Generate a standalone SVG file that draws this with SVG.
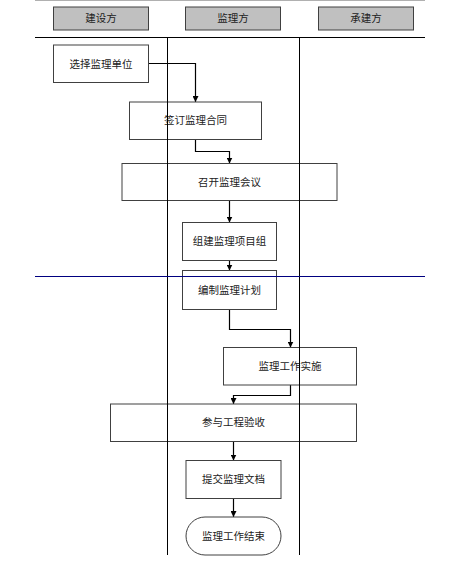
<svg xmlns="http://www.w3.org/2000/svg" width="456" height="566" viewBox="0 0 456 566">
<style>
.hdr{fill:#c0c0c0;stroke:#404040;stroke-width:1}
.box{fill:#ffffff;stroke:#404040;stroke-width:1}
.t{font-family:"Liberation Serif","Noto Sans CJK SC",serif;font-size:10.5px;fill:#222;text-anchor:middle;dominant-baseline:central}
.lane{stroke:#000;stroke-width:1;fill:none}
.c{stroke:#000;stroke-width:1.2;fill:none;marker-end:url(#ah)}
</style>
<defs>
<marker id="ah" viewBox="0 0 10 10" refX="10" refY="5" markerWidth="6" markerHeight="6" markerUnits="userSpaceOnUse" orient="auto">
<path d="M0,0 L10,5 L0,10 z" fill="#000"/>
</marker>
</defs>
<rect width="456" height="566" fill="#fff"/>
<g id="h1"><rect class="hdr" x="53.5" y="7" width="95" height="23"/><text class="t" x="101" y="18.5">建设方</text></g>
<g id="h2"><rect class="hdr" x="185.5" y="7" width="95" height="23"/><text class="t" x="233" y="18.5">监理方</text></g>
<g id="h3"><rect class="hdr" x="318.5" y="7" width="95" height="23"/><text class="t" x="366" y="18.5">承建方</text></g>
<g id="connectors">
<polyline class="c" points="148.5,63.5 195.5,63.5 195.5,102"/>
<polyline class="c" points="195.5,139.5 195.5,151.5 229.5,151.5 229.5,163.5"/>
<polyline class="c" points="229.5,200.5 229.5,222.5"/>
<polyline class="c" points="229.5,260.5 229.5,270.5"/>
<polyline class="c" points="229.5,309.5 229.5,329.5 290.5,329.5 290.5,347.5"/>
<polyline class="c" points="290.5,385 290.5,395.5 233.5,395.5 233.5,404"/>
<polyline class="c" points="233.5,441.5 233.5,460.5"/>
<polyline class="c" points="233.5,498.5 233.5,517"/>
</g>
<g id="n1"><rect class="box" x="53.5" y="45" width="95" height="37.5"/><text class="t" x="101" y="64">选择监理单位</text></g>
<g id="n2"><rect class="box" x="129.5" y="102" width="132" height="37.5"/><text class="t" x="195.5" y="120.5">签订监理合同</text></g>
<g id="n3"><rect class="box" x="122" y="163.5" width="215" height="37"/><text class="t" x="229.5" y="182">召开监理会议</text></g>
<g id="n4"><rect class="box" x="182.5" y="222.5" width="94" height="38"/><text class="t" x="229.5" y="241.5">组建监理项目组</text></g>
<g id="n5"><rect class="box" x="182.5" y="270.5" width="94" height="39"/><text class="t" x="229.5" y="290">编制监理计划</text></g>
<g id="n6"><rect class="box" x="223.5" y="347.5" width="133" height="37.5"/><text class="t" x="290" y="366">监理工作实施</text></g>
<g id="n7"><rect class="box" x="110.5" y="404" width="246" height="37.5"/><text class="t" x="233.5" y="422.5">参与工程验收</text></g>
<g id="n8"><rect class="box" x="186" y="460.5" width="95" height="38"/><text class="t" x="233.5" y="479.5">提交监理文档</text></g>
<g id="n9"><rect class="box" x="186" y="517" width="95" height="38" rx="19" ry="19"/><text class="t" x="233.5" y="536">监理工作结束</text></g>
<g id="lanes">
<line x1="35" y1="0.5" x2="425" y2="0.5" stroke="#b0b0b0" stroke-width="1"/>
<line class="lane" x1="35" y1="37.5" x2="425" y2="37.5"/>
<line class="lane" x1="167.5" y1="37.5" x2="167.5" y2="555"/>
<line class="lane" x1="299.5" y1="37.5" x2="299.5" y2="555"/>
<line x1="35" y1="276.5" x2="425" y2="276.5" stroke="#000080" stroke-width="1"/>
</g>
</svg>
